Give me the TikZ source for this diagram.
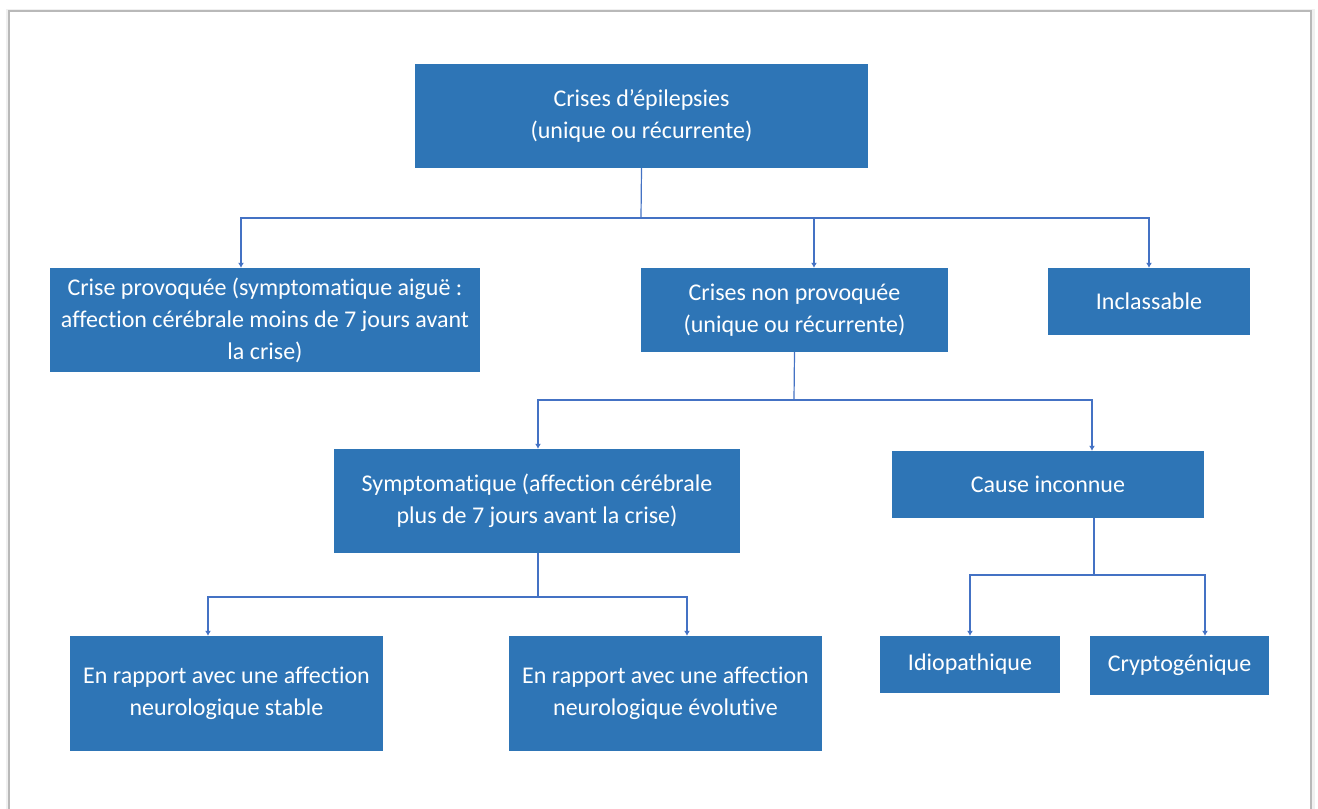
\documentclass[tikz,border=0pt]{standalone}
\usepackage{fontspec}
\setmainfont{Carlito}[Ligatures=NoCommon]
\usetikzlibrary{arrows.meta}
\definecolor{boxblue}{HTML}{2E75B6}
\definecolor{linkblue}{HTML}{4472C4}

\begin{document}
\begin{tikzpicture}[x=1pt,y=-1pt]
	\tikzstyle{bloc}=[fill=boxblue,text=white,align=center,inner sep=0pt,font=\fontsize{24}{32}\selectfont]
	\tikzstyle{lien}=[draw=linkblue,line width=1.2pt]
	\tikzstyle{fleche}=[lien,-{Latex[length=5pt,width=6pt]}]
	\useasboundingbox (0,0) rectangle (1318,809);
	\fill[gray!12] (6,9) rectangle (1315,809);
	\draw[gray!55,fill=white,line width=1.5pt] (9,11) rectangle (1311,812);
	% boites
	\node (crises) [bloc,minimum width=453,minimum height=104] at (641.5,116) {Crises d’épilepsies\\(unique ou récurrente)};
	\node (prov) [bloc,minimum width=430,minimum height=104] at (265,320) {Crise provoquée (symptomatique aiguë :\\affection cérébrale moins de 7 jours avant\\la crise)};
	\node (nonprov) [bloc,minimum width=307,minimum height=84] at (794.5,310) {Crises non provoquée\\(unique ou récurrente)};
	\node (incl) [bloc,minimum width=202,minimum height=67] at (1149,301.5) {Inclassable};
	\node (sympt) [bloc,minimum width=406,minimum height=104] at (537,501) {Symptomatique (affection cérébrale\\plus de 7 jours avant la crise)};
	\node (cause) [bloc,minimum width=312,minimum height=67] at (1048,484.5) {Cause inconnue};
	\node (stable) [bloc,minimum width=313,minimum height=115] at (226.5,693.5) {En rapport avec une affection\\neurologique stable};
	\node (evol) [bloc,minimum width=313,minimum height=115] at (665.5,693.5) {En rapport avec une affection\\neurologique évolutive};
	\node (idio) [bloc,minimum width=180,minimum height=57] at (970,664.5) {Idiopathique};
	\node (crypto) [bloc,minimum width=179,minimum height=59] at (1179.5,665.5) {Cryptogénique};
	% liens
	\coordinate (j1) at (641,218);
	\coordinate (j2) at (794,400);
	\coordinate (j3) at (538,597);
	\coordinate (j4) at (1094,575);
	\draw[lien] (crises.south) -- (j1);
	\draw[fleche] (j1) -| ([xshift=-24pt]prov.north);
	\draw[fleche] (j1) -| ([xshift=19.5pt]nonprov.north);
	\draw[fleche] (j1) -| (incl.north);
	\draw[lien] (nonprov.south) -- (j2);
	\draw[fleche] (j2) -| ([xshift=1pt]sympt.north);
	\draw[fleche] (j2) -| ([xshift=44pt]cause.north);
	\draw[lien] ([xshift=1pt]sympt.south) -- (j3);
	\draw[fleche] (j3) -| ([xshift=-18.5pt]stable.north);
	\draw[fleche] (j3) -| ([xshift=21.5pt]evol.north);
	\draw[lien] ([xshift=46pt]cause.south) -- (j4);
	\draw[fleche] (j4) -| (idio.north);
	\draw[fleche] (j4) -| ([xshift=25.5pt]crypto.north);
\end{tikzpicture}
\end{document}
